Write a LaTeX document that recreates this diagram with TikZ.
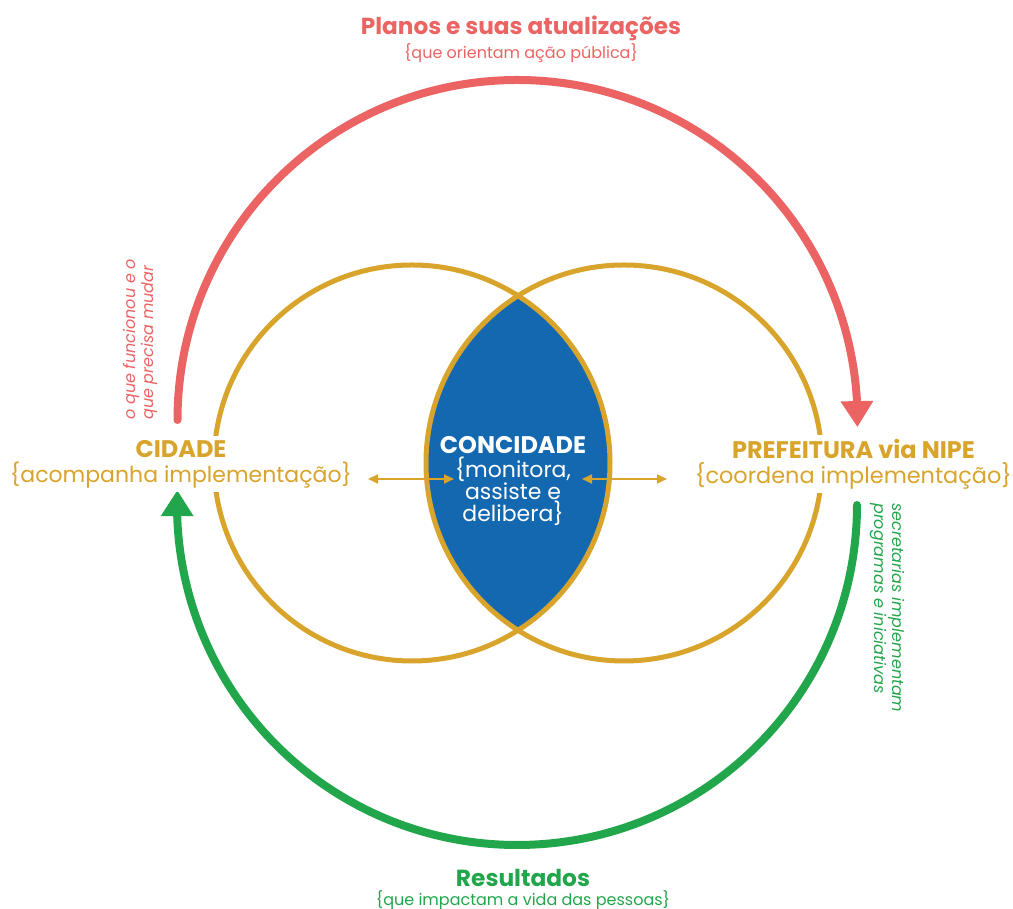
\documentclass[tikz,border=0pt]{standalone}
\usepackage{fontspec}
\setmainfont{Poppins}
\usetikzlibrary{arrows.meta,bending}
\definecolor{cred}{HTML}{EB6363}
\definecolor{cgold}{HTML}{D8A42B}
\definecolor{cblue}{HTML}{1468B0}
\definecolor{cgreen}{HTML}{22A64B}
\tikzset{
  ring/.style={draw=cgold,line width=5pt},
  bigarc/.style={line width=8pt,line cap=round},
  smallarrow/.style={draw=cgold,line width=1.8pt,{Triangle[length=10pt,width=9pt]}-{Triangle[length=10pt,width=9pt]}},
  lbl/.style={inner sep=0pt,align=center},
  masked/.style={fill=white,inner xsep=1pt,inner ysep=4pt},
  side/.style={inner sep=0pt,align=left,font=\fontsize{16}{18}\selectfont\itshape},
}
\begin{document}
\begin{tikzpicture}[x=1pt,y=1pt]
\useasboundingbox (0,0) rectangle (1013,909);
% lens
\begin{scope}
\clip (412,446) circle (198);
\fill[cblue] (624,446) circle (198);
\end{scope}
\draw[ring] (412,446) circle (198);
\draw[ring] (624,446) circle (198);
% coordinates
\coordinate (redstart) at (177.5,489);
\coordinate (greenstart) at (857,404);
% big arcs
\draw[bigarc,cred,-{Triangle[length=26pt,width=31pt]}] (redstart) arc[start angle=180,end angle=-1.2,radius=340];
\draw[bigarc,cgreen,-{Triangle[length=26pt,width=31pt]}] (greenstart) arc[start angle=0,end angle=-182.5,radius=340];
% labels
\node[lbl,text=cred,font=\fontsize{23.2}{27}\selectfont\bfseries] (plan) at (521,881) {Planos e suas atualizações};
\node[lbl,text=cred,font=\fontsize{16}{19}\selectfont] (plansub) at (521,856) {\{que orientam ação pública\}};
\node[lbl,masked,text=cgold,font=\fontsize{24}{26}\selectfont\bfseries] (cid) at (181,460) {CIDADE};
\node[lbl,masked,text=cgold,font=\fontsize{22}{26}\selectfont] (cidsub) at (181,434) {\{acompanha implementação\}};
\node[lbl,masked,text=cgold,font=\fontsize{24}{26}\selectfont\bfseries] (pref) at (853.5,460) {PREFEITURA via NIPE};
\node[lbl,masked,text=cgold,font=\fontsize{22.4}{26}\selectfont] (prefsub) at (853.5,433) {\{coordena implementação\}};
\node[lbl,text=white,font=\fontsize{24}{26}\selectfont\bfseries] (conc) at (513,464) {CONCIDADE};
\node[lbl,text=white,font=\fontsize{22}{22}\selectfont,anchor=north] (concsub) at (513,452) {\{monitora,\\assiste e\\delibera\}};
\node[lbl,text=cgreen,font=\fontsize{23.3}{28}\selectfont\bfseries] (res) at (523,31) {Resultados};
\node[lbl,text=cgreen,font=\fontsize{16}{19}\selectfont] (ressub) at (523,9) {\{que impactam a vida das pessoas\}};
\node[side,text=cred,rotate=90,anchor=west] (lnote) at (140,489) {o que funcionou e o\\que precisa mudar};
\node[side,text=cgreen,rotate=-90,anchor=west] (rnote) at (887,406) {secretarias implementam\\programas e iniciativas};
% small arrows
\coordinate (la) at (368,430);
\coordinate (lb) at (454,430);
\coordinate (ra) at (582,430);
\coordinate (rb) at (667,430);
\draw[smallarrow] (la) -- (lb);
\draw[smallarrow] (ra) -- (rb);
\end{tikzpicture}
\end{document}
